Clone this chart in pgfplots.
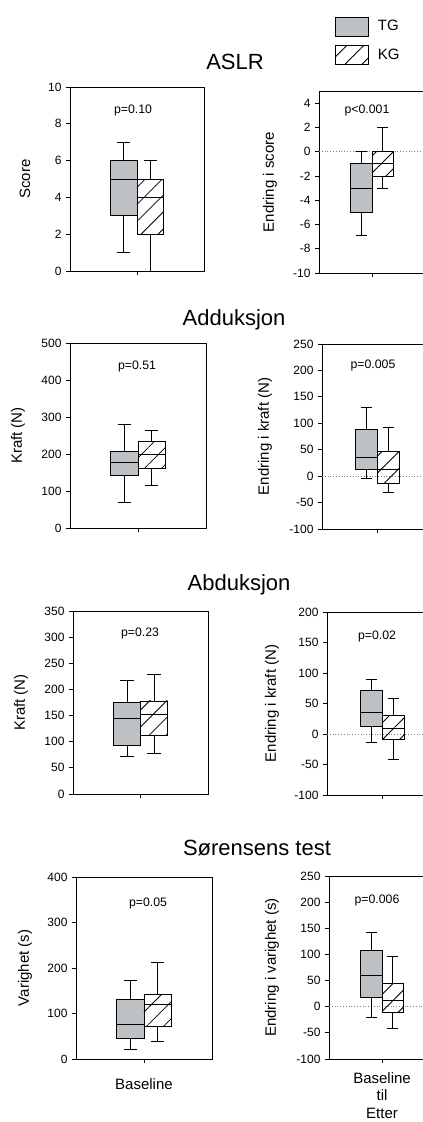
\documentclass[border=0pt]{standalone}
\usepackage{fontspec}
\setmainfont{Liberation Sans}
\usepackage{pgfplots}
\pgfplotsset{compat=1.18}
\usepgfplotslibrary{statistics}
\usetikzlibrary{patterns.meta}
\definecolor{tggray}{RGB}{190,193,196}

\pgfplotsset{
  panel/.style={
    scale only axis,
    anchor=north west,
    axis line style={black, line width=0.8pt},
    xmin=-1, xmax=1,
    xtick={0}, xticklabels={},
    tick align=outside,
    tick style={black, line width=0.8pt},
    major tick length=4pt,
    ytick pos=left, xtick pos=bottom,
    yticklabel style={font=\fontsize{12}{14}\selectfont, xshift=-1pt},
    xticklabel style={font=\fontsize{15}{17.5}\selectfont, align=center},
    ylabel style={font=\fontsize{15}{17}\selectfont, anchor=center},
    /pgf/number format/assume math mode=true,
    clip=false,
    boxplot/draw direction=y,
    boxplot/box extend=0.4,
    boxplot/whisker extend=0.2,
  },
  rpanel/.style={panel, xmax=1.3},
  tg/.style={draw=black, fill=tggray, line width=0.8pt, solid, mark=none, forget plot},
  kg/.style={draw=black, line width=0.8pt, solid, mark=none, forget plot,
    pattern={Lines[angle=45,distance=12pt,line width=0.8pt]}, pattern color=black},
  zeroline/.style={gray, dotted, line width=0.8pt, forget plot},
}

\begin{document}
\begin{tikzpicture}
\path[use as bounding box] (0pt,-1122pt) rectangle (423pt,0pt);
\clip (0pt,-1122pt) rectangle (423pt,0pt);

% ---------------- ASLR ----------------
\begin{axis}[panel, at={(70pt,-87pt)}, width=134pt, height=184pt,
  ymin=0, ymax=10, ytick={0,2,...,10},
  ylabel={Score}, ylabel style={at={(axis description cs:-0.336,0.5)}}]
\addplot[tg, boxplot prepared={draw position=-0.2, lower whisker=1, lower quartile=3, median=5, upper quartile=6, upper whisker=7}] coordinates {};
\addplot[kg, boxplot prepared={draw position=0.2, lower whisker=0, lower quartile=2, median=4, upper quartile=5, upper whisker=6}] coordinates {};
\end{axis}

\begin{axis}[rpanel, at={(319pt,-91pt)}, width=122pt, height=182pt,
  ymin=-10, ymax=5, ytick={-10,-8,...,4},
  ylabel={Endring i score}, ylabel style={at={(axis description cs:-0.402,0.5)}},
  legend style={at={(0.131,1.41)}, anchor=north west, draw=none, fill=none,
    font=\fontsize{15}{17}\selectfont, row sep=9pt, inner sep=0pt, nodes={inner sep=1pt}},
  legend cell align=left]
\addplot[zeroline] coordinates {(-1,0) (1.3,0)};
\addplot[tg, boxplot prepared={draw position=-0.2, lower whisker=-6.9, lower quartile=-5, median=-3, upper quartile=-1, upper whisker=0}] coordinates {};
\addplot[kg, boxplot prepared={draw position=0.2, lower whisker=-3, lower quartile=-2, median=-1, upper quartile=0, upper whisker=2}] coordinates {};
\addlegendimage{legend image code/.code={\draw[black, line width=0.8pt, fill=tggray] (0pt,-9.5pt) rectangle (33pt,9.5pt);}}
\addlegendentry{\hspace{8pt}TG}
\addlegendimage{legend image code/.code={\draw[black, line width=0.8pt, pattern={Lines[angle=45,distance=12pt,line width=0.8pt]}] (0pt,-9.5pt) rectangle (33pt,9.5pt);}}
\addlegendentry{\hspace{8pt}KG}
\end{axis}

% ---------------- Adduksjon ----------------
\begin{axis}[panel, at={(70pt,-343pt)}, width=136pt, height=185pt,
  ymin=0, ymax=500, ytick={0,100,...,500},
  ylabel={Kraft (N)}, ylabel style={at={(axis description cs:-0.382,0.5)}}]
\addplot[tg, boxplot prepared={draw position=-0.2, lower whisker=68, lower quartile=143, median=177, upper quartile=208, upper whisker=280}] coordinates {};
\addplot[kg, boxplot prepared={draw position=0.2, lower whisker=116, lower quartile=161, median=198, upper quartile=235, upper whisker=264}] coordinates {};
\end{axis}

\begin{axis}[rpanel, at={(322pt,-344pt)}, width=126.5pt, height=185pt,
  ymin=-100, ymax=250, ytick={-100,-50,...,250},
  ylabel={Endring i kraft (N)}, ylabel style={at={(axis description cs:-0.45,0.5)}}]
\addplot[zeroline] coordinates {(-1,0) (1.3,0)};
\addplot[tg, boxplot prepared={draw position=-0.2, lower whisker=-5, lower quartile=13.5, median=36, upper quartile=89, upper whisker=131}] coordinates {};
\addplot[kg, boxplot prepared={draw position=0.2, lower whisker=-30, lower quartile=-13, median=13.5, upper quartile=47.5, upper whisker=93}] coordinates {};
\end{axis}

% ---------------- Abduksjon ----------------
\begin{axis}[panel, at={(73pt,-611pt)}, width=135pt, height=183pt,
  ymin=0, ymax=350, ytick={0,50,...,350},
  ylabel={Kraft (N)}, ylabel style={at={(axis description cs:-0.385,0.5)}}]
\addplot[tg, boxplot prepared={draw position=-0.2, lower whisker=71.5, lower quartile=93, median=144, upper quartile=175, upper whisker=217}] coordinates {};
\addplot[kg, boxplot prepared={draw position=0.2, lower whisker=77, lower quartile=112, median=152, upper quartile=178, upper whisker=228}] coordinates {};
\end{axis}

\begin{axis}[rpanel, at={(327pt,-612pt)}, width=126.5pt, height=183pt,
  ymin=-100, ymax=200, ytick={-100,-50,...,200},
  ylabel={Endring i kraft (N)}, ylabel style={at={(axis description cs:-0.435,0.5)}}]
\addplot[zeroline] coordinates {(-1,0) (1.3,0)};
\addplot[tg, boxplot prepared={draw position=-0.2, lower whisker=-13.5, lower quartile=13, median=35.5, upper quartile=71, upper whisker=89.5}] coordinates {};
\addplot[kg, boxplot prepared={draw position=0.2, lower whisker=-42, lower quartile=-9, median=9.4, upper quartile=30.6, upper whisker=59}] coordinates {};
\end{axis}

% ---------------- Sorensens test ----------------
\begin{axis}[panel, at={(76pt,-877pt)}, width=136pt, height=182pt,
  ymin=0, ymax=400, ytick={0,100,...,400},
  xticklabels={Baseline}, xticklabel style={yshift=-12pt},
  ylabel={Varighet (s)}, ylabel style={at={(axis description cs:-0.375,0.5)}}]
\addplot[tg, boxplot prepared={draw position=-0.2, lower whisker=21, lower quartile=44.6, median=77, upper quartile=130, upper whisker=173}] coordinates {};
\addplot[kg, boxplot prepared={draw position=0.2, lower whisker=38, lower quartile=72, median=121, upper quartile=142, upper whisker=212}] coordinates {};
\end{axis}

\begin{axis}[rpanel, at={(329pt,-876pt)}, width=122pt, height=183pt,
  ymin=-100, ymax=250, ytick={-100,-50,...,250},
  xticklabels={Baseline\\til\\Etter}, xticklabel style={yshift=-6pt},
  ylabel={Endring i varighet (s)}, ylabel style={at={(axis description cs:-0.467,0.5)}}]
\addplot[zeroline] coordinates {(-1,0) (1.3,0)};
\addplot[tg, boxplot prepared={draw position=-0.2, lower whisker=-20, lower quartile=18, median=59, upper quartile=108, upper whisker=143}] coordinates {};
\addplot[kg, boxplot prepared={draw position=0.2, lower whisker=-42, lower quartile=-10, median=12, upper quartile=45, upper whisker=96}] coordinates {};
\end{axis}

% ---------------- titles and p-values ----------------
\begin{scope}[every node/.style={inner sep=0pt}]
\node[font=\fontsize{22}{24}\selectfont] at (235pt,-62pt) {ASLR};
\node[font=\fontsize{22}{24}\selectfont] at (234pt,-320pt) {Adduksjon};
\node[font=\fontsize{22}{24}\selectfont] at (239pt,-585pt) {Abduksjon};
\node[font=\fontsize{22}{24}\selectfont] at (257pt,-848pt) {Sørensens test};
\node[font=\fontsize{12.3}{14}\selectfont] at (133pt,-110pt) {p=0.10};
\node[font=\fontsize{12.3}{14}\selectfont] at (367pt,-110pt) {p<0.001};
\node[font=\fontsize{12.3}{14}\selectfont] at (137pt,-366pt) {p=0.51};
\node[font=\fontsize{12.3}{14}\selectfont] at (373pt,-365pt) {p=0.005};
\node[font=\fontsize{12.3}{14}\selectfont] at (140pt,-633pt) {p=0.23};
\node[font=\fontsize{12.3}{14}\selectfont] at (377pt,-636pt) {p=0.02};
\node[font=\fontsize{12.3}{14}\selectfont] at (148pt,-903pt) {p=0.05};
\node[font=\fontsize{12.3}{14}\selectfont] at (377pt,-900pt) {p=0.006};
\end{scope}
\end{tikzpicture}
\end{document}
